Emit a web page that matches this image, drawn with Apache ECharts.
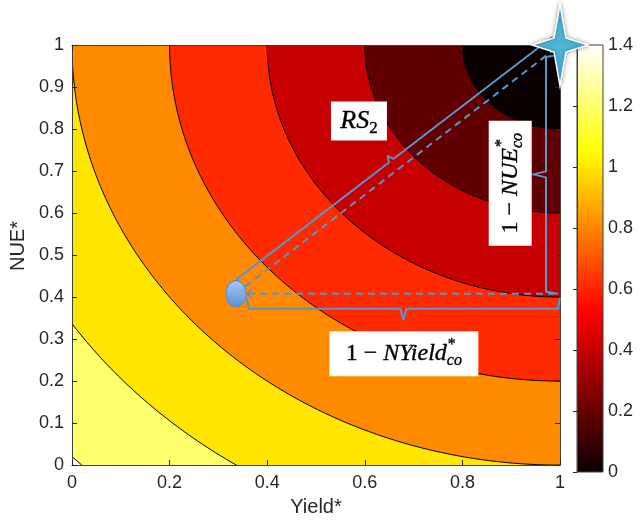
<!DOCTYPE html>
<html><head><meta charset="utf-8">
<script src="https://cdn.jsdelivr.net/npm/echarts@6/dist/echarts.min.js"></script>
<style>html,body{margin:0;padding:0;background:#fff;}#c{width:642px;height:522px;}</style>
</head><body><div id="c"></div>
<script>
// ---- data ----
const contourLevels = [0, 0.2, 0.4, 0.6, 0.8, 1.0, 1.2, 1.4];
const bandColors = ['#0a0000', '#600000', '#c60000', '#ff2a00', '#ff8a00', '#ffe600', '#ffff6a', '#ffffff'];
const optimumPoint = [1, 1];          // centre of the contours (ideal point, star)
const coPoint = [0.336, 0.408];       // blue ellipse
const rsBrace = [[0.336, 0.408], [1, 1]];
const nueBrace = [[1, 0.408], [1, 0.976]];
const nyieldBrace = [[0.358, 0.408], [1, 0.408]];
const rsLabelAnchor = [0.588, 0.819];
const nyieldLabelAnchor = [0.680, 0.265];
const nueLabelAnchor = [0.898, 0.671];
const colorbarRange = [0, 1.4];
const xTickStep = 0.2, yTickStep = 0.1, cbTickStep = 0.2;

// ---- styles ----
const SANS = '"Liberation Sans", Arial, Helvetica, sans-serif';
const SERIF = '"Liberation Serif", "Times New Roman", serif';
const AX = '#262626';
const LINE = '#5b94cb';

const chart = echarts.init(document.getElementById('c'), null, {renderer: 'canvas'});
const mctx = document.createElement('canvas').getContext('2d');
function textW(t, font) { mctx.font = font; return mctx.measureText(t).width; }

function mathLabel(parts, size) {
  let x = 0; const items = [];
  const small = Math.round(size * 0.66);
  parts.forEach(p => {
    if (p.t !== undefined) {
      const font = (p.it ? 'italic ' : '') + size + 'px ' + SERIF;
      items.push({x, y: 0, text: p.t, font}); x += textW(p.t, font);
    } else {
      let w = 0;
      if (p.sup) { const f = small + 'px ' + SERIF; items.push({x: x + 1, y: -size * 0.36, text: p.sup, font: f}); w = Math.max(w, textW(p.sup, f) + 1); }
      if (p.sub) { const f = (p.subIt ? 'italic ' : '') + small + 'px ' + SERIF; items.push({x, y: size * 0.3, text: p.sub, font: f}); w = Math.max(w, textW(p.sub, f)); }
      x += w;
    }
  });
  return {items, width: x};
}
function labelGroup(anchorPx, rot, bw, bh, parts, size) {
  const m = mathLabel(parts, size);
  const children = [{type: 'rect', shape: {x: -bw / 2, y: -bh / 2, width: bw, height: bh}, style: {fill: '#ffffff'}}];
  m.items.forEach(it => children.push({
    type: 'text', x: it.x - m.width / 2, y: it.y,
    style: {text: it.text, font: it.font, fill: '#000', stroke: '#000', lineWidth: 0.35,
      align: 'left', verticalAlign: 'middle'}
  }));
  return {type: 'group', x: anchorPx[0], y: anchorPx[1], rotation: rot, children};
}
function bracePts(p1, p2, side, off, tip, hook, inset1, inset2) {
  const dx = p2[0] - p1[0], dy = p2[1] - p1[1], len = Math.hypot(dx, dy);
  const ux = dx / len, uy = dy / len, nx = side * uy, ny = -side * ux;
  const m = [(p1[0] + p2[0]) / 2, (p1[1] + p2[1]) / 2];
  const P = (b, a, o) => [b[0] + ux * a + nx * o, b[1] + uy * a + ny * o];
  return [P(p1, inset1, hook), P(p1, inset1 + 2, off), P(m, -3, off), P(m, 0, off + tip), P(m, 3, off),
    P(p2, -inset2 - 2, off), P(p2, -inset2, hook)];
}

const axisCommon = {
  min: 0, max: 1, z: 5,
  axisLine: {show: true, onZero: false, lineStyle: {color: '#404040', width: 1}},
  axisTick: {show: true, inside: true, length: 5, lineStyle: {color: AX}},
  splitLine: {show: false},
  axisLabel: {show: false}
};

const option = {
  animation: false,
  backgroundColor: '#ffffff',
  grid: [
    {left: 72, top: 45, width: 488, height: 426},
    {left: 577, top: 45, width: 26, height: 427}
  ],
  xAxis: [
    Object.assign({}, axisCommon, {type: 'value', gridIndex: 0, position: 'bottom', interval: xTickStep,
      axisLabel: {show: true, margin: 9, color: AX, fontSize: 18, fontFamily: SANS},
      name: 'Yield*', nameLocation: 'middle', nameGap: 31,
      nameTextStyle: {color: AX, fontSize: 20, fontFamily: SANS}}),
    Object.assign({}, axisCommon, {type: 'value', gridIndex: 0, position: 'top', interval: xTickStep}),
    {type: 'value', gridIndex: 1, min: 0, max: 1, show: false}
  ],
  yAxis: [
    Object.assign({}, axisCommon, {type: 'value', gridIndex: 0, position: 'left', interval: yTickStep,
      axisLabel: {show: true, margin: 8, color: AX, fontSize: 18, fontFamily: SANS},
      name: '{gap|}{t|NUE*}', nameLocation: 'middle', nameGap: 41,
      nameTextStyle: {color: AX, fontSize: 20, fontFamily: SANS,
        rich: {gap: {width: 18}, t: {color: AX, fontSize: 20, fontFamily: SANS}}}}),
    Object.assign({}, axisCommon, {type: 'value', gridIndex: 0, position: 'right', interval: yTickStep}),
    {type: 'value', gridIndex: 1, position: 'right', min: colorbarRange[0], max: colorbarRange[1], interval: cbTickStep, z: 5,
      axisLine: {show: true, lineStyle: {color: '#404040'}},
      axisTick: {show: true, inside: true, length: 4, lineStyle: {color: AX}},
      splitLine: {show: false},
      axisLabel: {show: true, margin: 5, color: AX, fontSize: 18, fontFamily: SANS}}
  ],
  series: [
    { // filled contours
      type: 'custom', xAxisIndex: 0, yAxisIndex: 0, clip: true, silent: true, z: 2,
      data: contourLevels.slice(1).map((L, i) => [L, i]).reverse(),
      renderItem: function (params, api) {
        const L = api.value(0), idx = api.value(1);
        const pts = [];
        const N = 160;
        for (let k = 0; k <= N; k++) {
          const t = Math.PI + (Math.PI / 2) * k / N;
          pts.push(api.coord([optimumPoint[0] + L * Math.cos(t), optimumPoint[1] + L * Math.sin(t)]));
        }
        const c = api.coord(optimumPoint);
        return {type: 'group', children: [
          {type: 'polygon', shape: {points: [c].concat(pts)}, style: {fill: bandColors[idx], stroke: null}},
          {type: 'polyline', shape: {points: pts}, style: {stroke: '#000', lineWidth: 1, fill: null}}
        ]};
      }
    },
    { // colorbar
      type: 'custom', xAxisIndex: 2, yAxisIndex: 2, clip: false, silent: true, z: 2,
      data: [[0]],
      renderItem: function (params, api) {
        const a = api.coord([0, colorbarRange[1]]), b = api.coord([1, colorbarRange[0]]);
        return {type: 'rect', shape: {x: a[0], y: a[1], width: b[0] - a[0], height: b[1] - a[1]},
          style: {stroke: '#404040', lineWidth: 1,
            fill: new echarts.graphic.LinearGradient(0, 0, 0, 1, [
              {offset: 0, color: '#ffffff'}, {offset: 0.25, color: '#ffff00'},
              {offset: 0.625, color: '#ff0000'}, {offset: 1, color: '#0a0000'}])}};
      }
    },
    { // annotations
      type: 'custom', xAxisIndex: 0, yAxisIndex: 0, clip: false, silent: true, z: 10,
      data: [[0]],
      renderItem: function (params, api) {
        const co = api.coord(coPoint), op = api.coord(optimumPoint);
        const hEnd = api.coord([optimumPoint[0], coPoint[1]]);
        const ch = [];
        const dash = {stroke: LINE, lineWidth: 2, lineDash: [7, 5], fill: null};
        ch.push({type: 'line', shape: {x1: co[0], y1: co[1], x2: op[0], y2: op[1]}, style: dash});
        ch.push({type: 'line', shape: {x1: co[0], y1: co[1], x2: hEnd[0], y2: hEnd[1]}, style: dash});
        ch.push({type: 'polyline', shape: {points: [[co[0] + 16, co[1] - 5], [co[0] + 11, co[1]], [co[0] + 16, co[1] + 5]]}, style: {stroke: LINE, lineWidth: 1.5, fill: null}});
        const solid = {stroke: LINE, lineWidth: 2, fill: null, lineJoin: 'round'};
        ch.push({type: 'polyline', shape: {points: bracePts(api.coord(rsBrace[0]), api.coord(rsBrace[1]), 1, 11, 6, 0, 8, 0)}, style: solid});
        ch.push({type: 'polyline', shape: {points: bracePts(api.coord(nueBrace[0]), api.coord(nueBrace[1]), 1, 14, 13, 2, 0, 0)}, style: solid});
        ch.push({type: 'polyline', shape: {points: bracePts(api.coord(nyieldBrace[0]), api.coord(nyieldBrace[1]), -1, 15, 11, 4, 0, 0)}, style: solid});
        ch.push({type: 'circle', x: co[0], y: co[1], scaleX: 10 / 13, shape: {cx: 0, cy: 0, r: 13},
          style: {fill: new echarts.graphic.LinearGradient(0, 0, 0, 1, [{offset: 0, color: '#aac8ef'}, {offset: 1, color: '#5b90d8'}]),
            stroke: '#5a8ccc', lineWidth: 1.2}});
        ch.push(labelGroup(api.coord(rsLabelAnchor), 0, 56, 39, [{t: 'RS', it: true}, {sub: '2'}], 26));
        ch.push(labelGroup(api.coord(nyieldLabelAnchor), 0, 149, 45, [{t: '1 \u2212 '}, {t: 'NYield', it: true}, {sup: '*', sub: 'co', subIt: true}], 24));
        ch.push(labelGroup(api.coord(nueLabelAnchor), Math.PI / 2, 125, 43, [{t: '1 \u2212 '}, {t: 'NUE', it: true}, {sup: '*', sub: 'co', subIt: true}], 24));
        const sx = op[0], sy = op[1];
        const star = [[0, -41], [6, -7], [28, 0], [6, 7], [0, 41], [-6, 7], [-28, 0], [-6, -7]].map(p => [sx + p[0], sy + p[1]]);
        ch.push({type: 'polygon', shape: {points: star},
          style: {fill: '#4cb5d5', stroke: '#ffffff', lineWidth: 1.5, shadowBlur: 4, shadowColor: 'rgba(0,0,0,0.35)'}});
        return {type: 'group', children: ch};
      }
    }
  ]
};
chart.setOption(option);
</script></body></html>
